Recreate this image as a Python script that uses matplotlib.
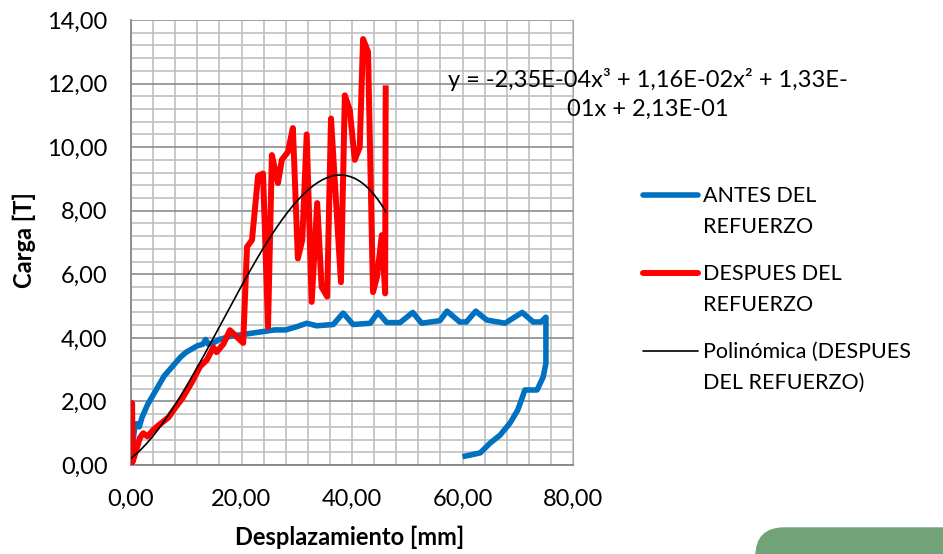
import numpy as np
import matplotlib.pyplot as plt
from matplotlib.lines import Line2D
from matplotlib.patches import FancyBboxPatch
from matplotlib.ticker import MultipleLocator

plt.rcParams['font.family'] = ['Lato', 'DejaVu Sans']

# Ensayo antes del refuerzo (desplazamiento mm, carga T)
antes_x = [0.0, 0.3, 0.6, 1.0, 1.5, 2.0, 3.0, 4.0, 5.0, 6.0, 7.0, 8.0, 9.0, 10.0,
           11.0, 12.0, 13.0, 13.5, 14.0, 15.0, 16.0, 17.0, 18.0, 20.0, 22.0, 24.0,
           26.0, 28.0, 30.0, 31.8, 33.6, 36.6, 38.4, 40.2, 43.3, 44.7, 46.3, 48.7,
           51.0, 52.6, 55.9, 57.2, 59.5, 60.7, 62.4, 64.4, 67.7, 70.8, 72.8, 74.2,
           75.1, 75.1, 75.1, 74.6, 73.5, 72.6, 71.3, 70.0, 68.6, 66.8, 65.0, 63.2,
           60.5]
antes_y = [0.20, 0.60, 1.10, 1.30, 1.20, 1.50, 1.90, 2.20, 2.50, 2.80, 3.00, 3.20,
           3.40, 3.55, 3.65, 3.75, 3.80, 3.95, 3.80, 3.85, 3.95, 4.00, 4.05, 4.10,
           4.15, 4.20, 4.25, 4.25, 4.35, 4.46, 4.38, 4.42, 4.78, 4.42, 4.46, 4.80,
           4.48, 4.48, 4.80, 4.46, 4.54, 4.84, 4.50, 4.50, 4.84, 4.56, 4.46, 4.80,
           4.50, 4.50, 4.65, 4.24, 3.20, 2.77, 2.36, 2.36, 2.36, 1.73, 1.32, 0.94,
           0.69, 0.38, 0.28]

# Ensayo despues del refuerzo
despues_x = [0.0, 0.2, 0.3, 1.0, 1.6, 2.2, 3.0, 4.0, 5.0, 6.8, 8.0, 9.3, 11.0,
             12.5, 13.7, 14.9, 15.5, 16.7, 17.9, 20.3, 21.0, 21.9, 23.0, 23.9,
             24.8, 25.5, 26.6, 27.3, 28.4, 29.3, 30.2, 31.0, 31.8, 32.7, 33.7,
             34.5, 35.5, 36.2, 38.0, 38.7, 39.6, 40.5, 41.4, 42.0, 42.9, 43.8,
             44.5, 45.4, 46.0, 46.1]
despues_y = [0.00, 1.95, 0.10, 0.50, 0.85, 1.00, 0.90, 1.10, 1.25, 1.50, 1.80,
             2.10, 2.60, 3.10, 3.30, 3.70, 3.55, 3.80, 4.24, 3.84, 6.86, 7.08,
             9.10, 9.17, 4.34, 9.75, 8.87, 9.60, 9.85, 10.60, 6.50, 7.08, 10.40,
             5.13, 8.24, 5.60, 5.30, 10.90, 5.75, 11.63, 11.16, 9.60, 10.00,
             13.40, 13.00, 5.44, 5.90, 7.23, 5.40, 11.85]

# Linea de tendencia polinomica (grado 3) de la serie despues del refuerzo
poly_coef = [-2.35e-04, 1.16e-02, 1.33e-01, 2.13e-01]
poly_label = 'y = -2,35E-04x³ + 1,16E-02x² + 1,33E-\n01x + 2,13E-01'

legend_labels = ['ANTES DEL\nREFUERZO', 'DESPUES DEL\nREFUERZO',
                 'Polinómica (DESPUES\nDEL REFUERZO)']

blue = '#0070c0'
red = '#ff0000'


def coma(v, pos=None):
    return f'{v:.2f}'.replace('.', ',')


fig = plt.figure(figsize=(9.43, 5.54), dpi=100)
ax = fig.add_axes([131 / 943, 89 / 554, 442 / 943, 445 / 554])

ax.plot(antes_x, antes_y, color=blue, lw=4.0, solid_joinstyle='round', zorder=3)
ax.plot(despues_x, despues_y, color=red, lw=4.3, solid_joinstyle='round', zorder=4)

xs = np.linspace(0, max(despues_x), 200)
ax.plot(xs, np.polyval(poly_coef, xs), color='black', lw=1.2, zorder=5)

ax.set_xlim(0, 80)
ax.set_ylim(0, 14)
ax.xaxis.set_major_locator(MultipleLocator(20))
ax.xaxis.set_minor_locator(MultipleLocator(4))
ax.yaxis.set_major_locator(MultipleLocator(2))
ax.yaxis.set_minor_locator(MultipleLocator(0.4))
ax.xaxis.set_major_formatter(coma)
ax.yaxis.set_major_formatter(coma)

ax.grid(which='minor', color='#c0c0c0', lw=1.2)
ax.grid(which='major', axis='x', color='#c0c0c0', lw=1.2)
ax.grid(which='major', axis='y', color='#8c8c8c', lw=1.2)
ax.set_axisbelow(True)
ax.tick_params(which='both', length=0, labelsize=17)
ax.tick_params(axis='y', pad=17)
ax.tick_params(axis='x', pad=17)
for side in ['top', 'right']:
    ax.spines[side].set_color('#a6a6a6')
for side in ['left', 'bottom']:
    ax.spines[side].set_color('#868686')
    ax.spines[side].set_linewidth(1.3)

ax.set_xlabel('Desplazamiento [mm]', fontsize=17, fontweight='bold')
ax.set_ylabel('Carga [T]', fontsize=17, fontweight='bold')
ax.xaxis.set_label_coords(0.495, -0.137)
ax.yaxis.set_label_coords(-0.215, 0.506)

fig.text(648 / 943, 1 - 94 / 554, poly_label, fontsize=17, ha='center',
         va='center', multialignment='center', linespacing=1.5)

# Leyenda a la derecha
entries = [(blue, 4.0, 195), (red, 4.3, 273), ('black', 1.2, 351)]
for (col, lw, yp), lab in zip(entries, legend_labels):
    yf = 1 - yp / 554
    fig.add_artist(Line2D([643 / 943, 698 / 943], [yf, yf], color=col, lw=lw,
                          solid_capstyle='round'))
    fig.text(703 / 943, 1 - (yp - 9) / 554, lab, fontsize=15.5, ha='left',
             va='top', linespacing=1.7)

# Forma verde decorativa abajo a la derecha
fig.add_artist(FancyBboxPatch((756 / 943, -0.05), 0.3, 0.05 + 26 / 554,
                              boxstyle='round,pad=0,rounding_size=0.03',
                              transform=fig.transFigure, color='#72a277',
                              mutation_aspect=943 / 554))

fig.savefig('out.png', dpi=100)
